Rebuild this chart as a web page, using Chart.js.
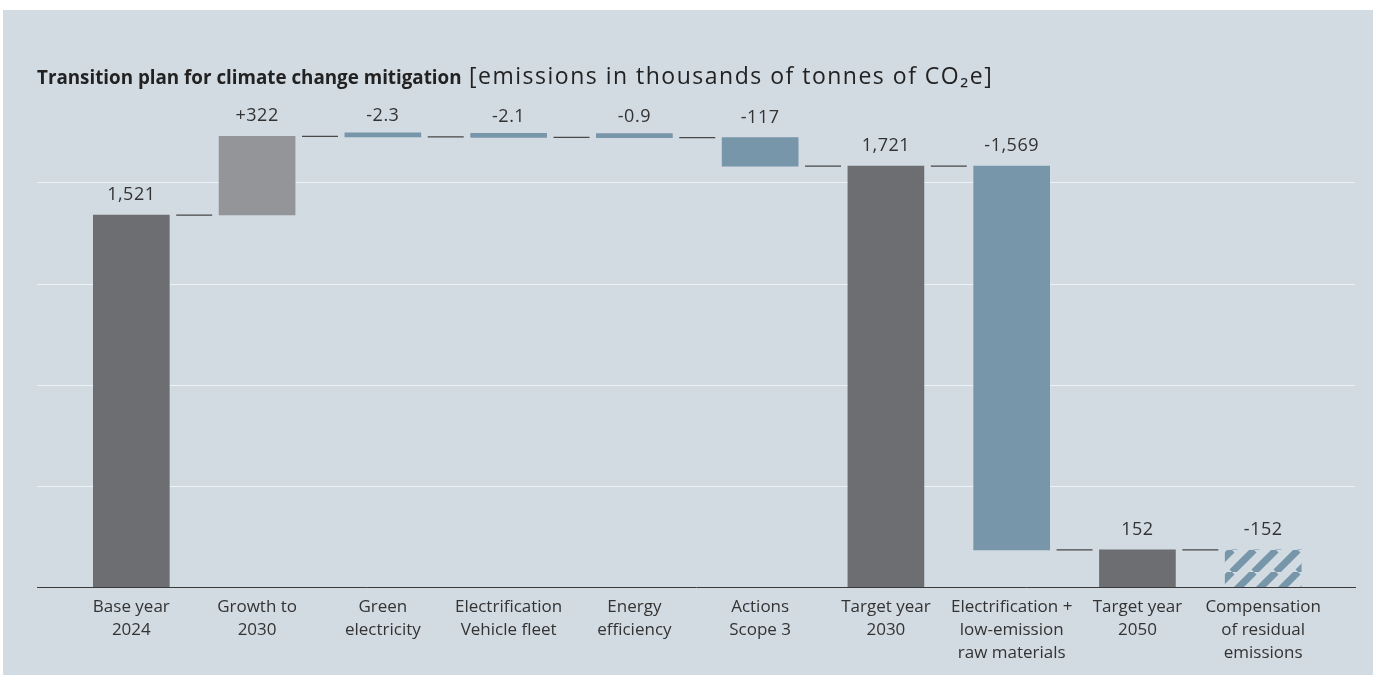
<!DOCTYPE html>
<html>
<head>
<meta charset="utf-8">
<script src="https://cdn.jsdelivr.net/npm/chart.js@4.4.1/dist/chart.umd.min.js"></script>
<style>
  html, body { margin: 0; padding: 0; background: #ffffff; }
  #panel { position: absolute; left: 3px; top: 10px; width: 1370px; height: 665px; background: #d2dae2; }
  #wrap { position: absolute; left: 0; top: 0; width: 1373px; height: 675px; }
  #title { position: absolute; left: 37px; top: 59px; font-family: 'Open Sans', sans-serif; font-size: 23px;
           color: #222222; white-space: nowrap; z-index: 2; letter-spacing: 1.5px; }
  #title b { font-weight: 700; font-size: 18.8px; letter-spacing: 0; }
</style>
</head>
<body>
<div id="panel"></div>
<div id="wrap"><canvas id="chart"></canvas></div>
<div id="title"><b>Transition plan for climate change mitigation</b> [emissions in thousands of tonnes of CO₂e]</div>
<script>
// Waterfall steps: emissions in thousands of tonnes of CO2e
const categories = [
  ['Base year', '2024'],
  ['Growth to', '2030'],
  ['Green', 'electricity'],
  ['Electrification', 'Vehicle fleet'],
  ['Energy', 'efficiency'],
  ['Actions', 'Scope 3'],
  ['Target year', '2030'],
  ['Electrification +', 'low-emission', 'raw materials'],
  ['Target year', '2050'],
  ['Compensation', 'of residual', 'emissions']
];
const changes = [1521, 322, -2.3, -2.1, -0.9, -117, 1721, -1569, 152, -152];
const kinds = ['total', 'increase', 'decrease', 'decrease', 'decrease', 'decrease', 'total', 'decrease', 'total', 'offset'];
const gridValues = [413, 826, 1239, 1652];
const axisMax = 2065;

// Floating ranges and the level each step ends at
const ranges = [];
const endLevels = [];
let level = 0;
changes.forEach((v, i) => {
  if (kinds[i] === 'total') { ranges.push([0, v]); level = v; }
  else { ranges.push([level, level + v]); level += v; }
  endLevels.push(level);
});

// Diagonal hatch for the compensation step
function hatch(color) {
  const p = 22;
  const c = document.createElement('canvas');
  c.width = p; c.height = p;
  const g = c.getContext('2d');
  g.strokeStyle = color;
  g.lineWidth = 7;
  for (const o of [-p, 0, p]) {
    g.beginPath(); g.moveTo(o, p); g.lineTo(o + p, 0); g.stroke();
  }
  return g.createPattern(c, 'repeat');
}

const palette = { total: '#6d6e71', increase: '#939598', decrease: '#7896aa', offset: hatch('#7896aa') };

// Short connectors between neighbouring steps
const connectorHalf = 0.143;
const connectorPoints = [];
for (let i = 0; i < changes.length - 1; i++) {
  connectorPoints.push({ x: i + 0.5 - connectorHalf, y: endLevels[i] });
  connectorPoints.push({ x: i + 0.5 + connectorHalf, y: endLevels[i] });
  connectorPoints.push({ x: i + 0.5, y: null });
}

function formatValue(v, kind) {
  const s = Math.abs(v).toLocaleString('en-US', { maximumFractionDigits: 1 });
  if (kind === 'total') return s;
  return (v > 0 ? '+' : '-') + s;
}

const valueLabels = {
  id: 'valueLabels',
  afterDatasetsDraw(chart) {
    const { ctx, scales: { x, y } } = chart;
    ctx.save();
    ctx.font = '18px "Open Sans", sans-serif';
    if ('letterSpacing' in ctx) ctx.letterSpacing = '0.5px';
    ctx.fillStyle = '#333333';
    ctx.textAlign = 'center';
    ctx.textBaseline = 'middle';
    changes.forEach((v, i) => {
      const top = y.getPixelForValue(Math.max(ranges[i][0], ranges[i][1]));
      ctx.fillText(formatValue(v, kinds[i]), x.getPixelForValue(i), top - 20);
    });
    ctx.restore();
  }
};

new Chart(document.getElementById('chart'), {
  data: {
    datasets: [
      {
        type: 'bar',
        data: ranges.map((r, i) => ({ x: i, y: r })),
        backgroundColor: kinds.map(k => palette[k]),
        barThickness: 76,
        minBarLength: 4,
        borderWidth: 0
      },
      {
        type: 'line',
        data: connectorPoints,
        borderColor: '#47484a',
        borderWidth: 1.2,
        pointRadius: 0,
        spanGaps: false,
        fill: false
      }
    ]
  },
  options: {
    responsive: true,
    maintainAspectRatio: false,
    animation: false,
    layout: { padding: { left: 37, right: 18, top: 82, bottom: 0 } },
    plugins: { legend: { display: false }, tooltip: { enabled: false } },
    scales: {
      x: {
        type: 'linear',
        offset: false,
        min: -0.75,
        max: 9.73,
        afterBuildTicks: s => { s.ticks = categories.map((_, i) => ({ value: i })); },
        afterFit: s => { s.height = 88; },
        ticks: {
          autoSkip: false,
          maxRotation: 0,
          padding: 9,
          color: '#333333',
          font: { family: "'Open Sans', sans-serif", size: 17, lineHeight: 1.35 },
          callback: v => categories[v]
        },
        grid: { display: false, drawTicks: false, offset: false },
        border: { display: true, color: '#3a3a3a', width: 1 }
      },
      y: {
        min: 0,
        max: axisMax,
        afterBuildTicks: s => { s.ticks = gridValues.map(v => ({ value: v })); },
        afterFit: s => { s.width = 0; },
        ticks: { display: false },
        grid: { color: '#eef2f5', lineWidth: 1, drawTicks: false },
        border: { display: false }
      }
    }
  },
  plugins: [valueLabels]
});
</script>
</body>
</html>
